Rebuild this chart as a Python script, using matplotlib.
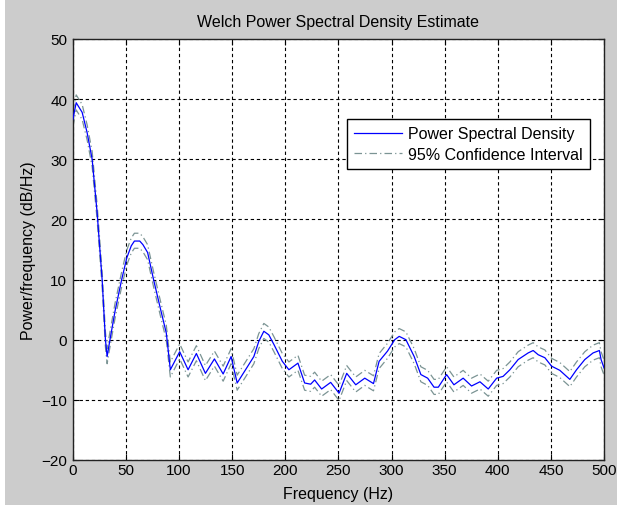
import matplotlib
matplotlib.use('Agg')
import matplotlib.pyplot as plt
import numpy as np
from matplotlib.patches import Rectangle

# vertices of the Welch PSD estimate
freq_hz = [0, 3.2, 8.8, 13.5, 18.2, 22.9, 27.6, 30.7, 32.3, 34.5, 39.8, 46, 50.8, 55, 58,
           63, 66, 70.4, 76, 82, 88, 91.8, 100.6, 108.5, 116.3, 124.8, 133.3, 141.5, 149,
           154.7, 164, 170.4, 175, 179.8, 184.5, 189.3, 197.2, 203.4, 211.9, 218.2, 223.9,
           227.6, 234.2, 242.7, 250.6, 257.8, 266.3, 274.8, 283, 288.3, 296.2, 303, 307.2,
           313.5, 321.3, 327.6, 334, 340, 344, 351.8, 358.7, 367.4, 375.3, 383.2, 391,
           398.9, 405, 411.4, 419.2, 428.6, 433.3, 438, 444.3, 450.6, 458.4, 467.8, 474.1,
           481.9, 489.7, 495.6, 497.2, 500]
psd_db = [36.6, 39.4, 37.8, 34.4, 30.0, 21.1, 10.0, 0.0, -2.8, -0.5, 4.8, 10.0, 13.6, 15.6, 16.4,
          16.4, 15.8, 14.5, 10.0, 5.5, 1.1, -5.0, -2.0, -5.0, -2.3, -5.6, -3.2, -5.7, -2.8,
          -7.2, -4.6, -2.8, -0.3, 1.4, 0.8, -0.8, -3.6, -5.0, -3.9, -7.2, -7.4,
          -6.7, -8.2, -7.1, -8.9, -5.6, -7.5, -6.4, -7.3, -3.6, -1.9, 0.0, 0.55,
          0.0, -2.8, -5.8, -6.4, -7.9, -7.9, -5.8, -7.5, -6.4, -7.7, -7.0, -8.2,
          -6.4, -6.1, -5.0, -3.3, -2.2, -1.8, -2.5, -3.0, -4.4, -5.1, -6.6, -5.0,
          -3.3, -2.2, -1.8, -3.3, -4.7]

# confidence bounds sit a fixed number of dB around the estimate
ci_upper_db = 1.3
ci_lower_db = -1.2

xticks = np.arange(0, 501, 50)
yticks = np.arange(-20, 51, 10)

plt.rcParams['font.family'] = ['Liberation Sans', 'DejaVu Sans']

fig = plt.figure(figsize=(6.17, 5.06), dpi=100, facecolor='#cccccc')
fig.patches.append(Rectangle((0, 0), 5 / 617, 1, transform=fig.transFigure,
                             facecolor='white', edgecolor='none'))
ax = fig.add_axes([0.118, 0.089, 0.861, 0.832])

f = np.array(freq_hz)
p = np.array(psd_db)
ax.plot(f, p, color='#0000ff', lw=0.9, label='Power Spectral Density', zorder=3)
ax.plot(f, p + ci_upper_db, color='#7b9494', lw=0.9, ls=(0, (6, 2.5, 1, 2.5)),
        label='95% Confidence Interval', zorder=2)
ax.plot(f, p + ci_lower_db, color='#7b9494', lw=0.9, ls=(0, (6, 2.5, 1, 2.5)), zorder=2)

ax.set_xlim(0, 500)
ax.set_ylim(-20, 50)
ax.set_xticks(xticks)
ax.set_yticks(yticks)
ax.grid(True, color='black', linestyle=(0, (3, 2.5)), linewidth=0.8)
ax.tick_params(direction='in', length=4, width=0.8, top=True, right=True,
               labelsize=11, colors='black')
ax.tick_params(axis='x', pad=2)
ax.tick_params(axis='y', pad=4)
for s in ax.spines.values():
    s.set_linewidth(1.0)
    s.set_color('#222222')

ax.set_title('Welch Power Spectral Density Estimate', fontsize=11.5, pad=9.5)
ax.set_xlabel('Frequency (Hz)', fontsize=11.5, labelpad=7)
ax.set_ylabel('Power/frequency (dB/Hz)', fontsize=11.5, labelpad=4)

leg = ax.legend(loc='upper right', bbox_to_anchor=(0.974, 0.810), borderaxespad=0,
                fontsize=11.5, fancybox=False, framealpha=1, edgecolor='black',
                handlelength=3.0, handletextpad=0.4, labelspacing=0.35, borderpad=0.45)
leg.get_frame().set_linewidth(1.0)

fig.savefig('out.png', dpi=100, facecolor=fig.get_facecolor())
